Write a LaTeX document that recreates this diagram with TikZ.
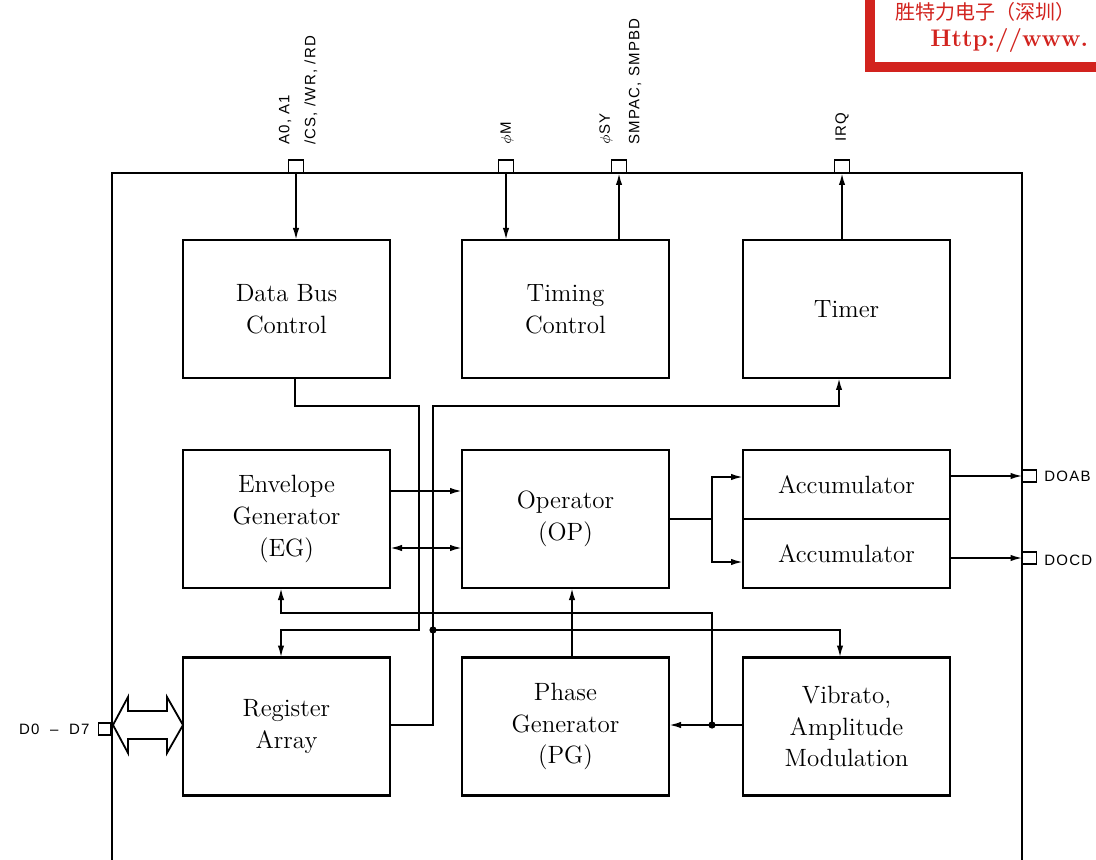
\documentclass[tikz,border=0pt]{standalone}
\usepackage{fontspec}
\setsansfont{Liberation Sans}[LetterSpace=8]
\newfontfamily\cjk{Noto Sans CJK SC}
\usetikzlibrary{arrows.meta,calc}
\definecolor{redc}{RGB}{210,35,30}
\tikzset{
 blk/.style={draw, line width=1.2pt, minimum width=103.5pt, minimum height=69pt, inner sep=0pt, outer sep=0pt, align=center, font=\fontsize{12.5}{15.8}\selectfont, fill=white},
 accbox/.style={blk, minimum height=34.5pt},
 wire/.style={line width=0.9pt},
 arr/.style={wire, -{Latex[length=6pt,width=3.2pt]}},
 darr/.style={wire, {Latex[length=6pt,width=3.2pt]}-{Latex[length=6pt,width=3.2pt]}},
 pin/.style={draw, line width=0.9pt, minimum width=7.5pt, minimum height=6.5pt, inner sep=0pt, outer sep=0pt, fill=white},
 pinlbl/.style={font=\sffamily\fontsize{7.5}{9}\selectfont, inner sep=0pt},
 vlbl/.style={pinlbl, rotate=90, anchor=west},
 jdot/.style={circle, fill, inner sep=0pt, minimum size=3.6pt},
}
\begin{document}
\begin{tikzpicture}[x=0.5pt,y=-0.5pt]
\useasboundingbox (0,0) rectangle (1096,860);
\fill[white] (0,0) rectangle (1096,860);
\clip (0,0) rectangle (1096,860);

% logo box
\draw[draw=redc, line width=5pt, fill=white] (870,-30) rectangle (1130,67);
\node[text=redc, font=\cjk\fontsize{10}{12}\selectfont, inner sep=0pt] (logo1) at (985,12) {胜特力电子（深圳）};
\node[text=redc, font=\bfseries\fontsize{12}{14}\selectfont, inner sep=0pt, anchor=base west] (logo2) at (930,47) {Http://www.};

% outer frame
\draw[line width=1pt] (112,860) -- (112,173) -- (1022,173) -- (1022,860);

% blocks
\node[blk] (dbc) at (286.5,309) {Data Bus\\Control};
\node[blk] (tc) at (565.5,309) {Timing\\Control};
\node[blk] (tim) at (846.5,309) {Timer};
\node[blk] (eg) at (286.5,519) {Envelope\\Generator\\(EG)};
\node[blk] (op) at (565.5,519) {Operator\\(OP)};
\node[accbox] (acc1) at (846.5,484.5) {Accumulator};
\node[accbox] (acc2) at (846.5,553.5) {Accumulator};
\node[blk] (ra) at (286.5,726.5) {Register\\Array};
\node[blk] (pg) at (565.5,726.5) {Phase\\Generator\\(PG)};
\node[blk] (vam) at (846.5,726.5) {Vibrato,\\Amplitude\\Modulation};

% top pins
\node[pin] (pA) at (296,166.5) {};
\node[pin] (pM) at (506,166.5) {};
\node[pin] (pSY) at (619,166.5) {};
\node[pin] (pIRQ) at (842,166.5) {};
\node[vlbl] (lA) at (285,145) {A0, A1};
\node[vlbl] (lCS) at (311,145) {/CS, /WR, /RD};
\node[vlbl] (lM) at (507,145) {$\phi$M};
\node[vlbl] (lSY) at (606,145) {$\phi$SY};
\node[vlbl] (lSMP) at (635,145) {SMPAC, SMPBD};
\node[vlbl] (lIRQ) at (842,142) {IRQ};

\draw[arr] (pA.south) -- (pA.south |- dbc.north);
\draw[arr] (pM.south) -- (pM.south |- tc.north);
\draw[arr] (pSY.south |- tc.north) -- (pSY.south);
\draw[arr] (pIRQ.south |- tim.north) -- (pIRQ.south);

% right pins
\node[pin, minimum width=7pt, minimum height=6pt] (pAB) at (1029.5,476) {};
\node[pin, minimum width=7pt, minimum height=6pt] (pCD) at (1029.5,558) {};
\node[pinlbl, anchor=west] (lAB) at (1044,476) {DOAB};
\node[pinlbl, anchor=west] (lCD) at (1044,560) {DOCD};
\draw[arr] (acc1.east |- pAB) -- (pAB.west);
\draw[arr] (acc2.east |- pCD) -- (pCD.west);

% left data pin and bus arrow
\node[pin, minimum width=6pt, minimum height=6pt] (pD) at (104.5,729) {};
\node[pinlbl, anchor=east] (lD) at (90,729) {D0 ~–~ D7};
\draw[line width=0.9pt, fill=white] (113,725) -- (128,697) -- (128,711) -- (167,711) -- (167,697) -- (183,725) -- (167,753) -- (167,739) -- (128,739) -- (128,753) -- cycle;

% data bus control to register array
\coordinate (dA) at (295,406);
\coordinate (dB) at (419,406);
\coordinate (dC) at (419,630);
\coordinate (dD) at (281,630);
\draw[arr] (dA |- dbc.south) -- (dA) -- (dB) -- (dC) -- (dD) -- (dD |- ra.north);

% register array bus
\coordinate (rA) at (433,725);
\coordinate (rB) at (433,406);
\coordinate (rC) at (839,406);
\draw[arr] (rA -| ra.east) -- (rA) -- (rB) -- (rC) -- (rC |- tim.south);
\coordinate (rJ) at (433,630);
\coordinate (rK) at (840,630);
\draw[arr] (rJ) -- (rK) -- (rK |- vam.north);
\node[jdot] (j1) at (rJ) {};

% vibrato outputs
\coordinate (vJ) at (712,725);
\coordinate (vB) at (712,613);
\coordinate (vC) at (281,613);
\draw[arr] (vam.west |- vJ) -- (pg.east |- vJ);
\draw[arr] (vJ) -- (vB) -- (vC) -- (vC |- eg.south);
\node[jdot] (j2) at (vJ) {};

% phase generator to operator
\coordinate (px) at (572,620);
\draw[arr] (px |- pg.north) -- (px |- op.south);

% envelope generator to operator
\coordinate (e1) at (400,491);
\coordinate (e2) at (400,548);
\draw[arr] (eg.east |- e1) -- (op.west |- e1);
\draw[darr] (eg.east |- e2) -- (op.west |- e2);

% operator to accumulators
\coordinate (oJ) at (712,519);
\coordinate (a1) at (712,477);
\coordinate (a2) at (712,562);
\draw[wire] (op.east |- oJ) -- (oJ);
\draw[arr] (oJ) -- (a1) -- (a1 -| acc1.west);
\draw[arr] (oJ) -- (a2) -- (a2 -| acc2.west);
\end{tikzpicture}
\end{document}
